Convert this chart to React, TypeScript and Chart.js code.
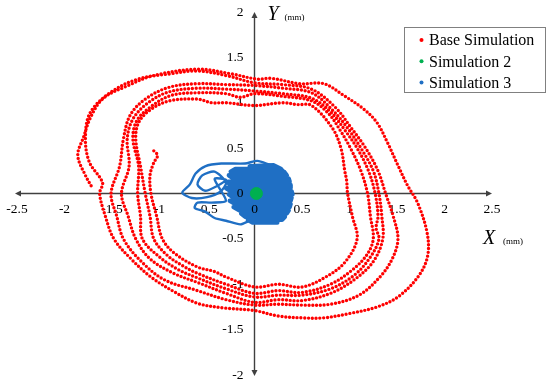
import React, { useEffect, useRef } from "react";
import { Chart, registerables } from "chart.js";

Chart.register(...registerables);

type P = [number, number];

const X_TICKS = [-2.5, -2, -1.5, -1, -0.5, 0, 0.5, 1, 1.5, 2, 2.5];
const Y_TICKS = [-2, -1.5, -1, -0.5, 0, 0.5, 1, 1.5, 2];
const SERIES_NAMES = ["Base Simulation", "Simulation 2", "Simulation 3"];
const SERIES_COLORS = ["#ff0000", "#00b050", "#1f6fc4"];

// Base Simulation trajectory (mm)
const BASE_TAIL: P[] = [[-1.06, 0.47], [-1.02, 0.42], [-1.06, 0.34], [-1.1, 0.2]];
const BASE_LOOP_6: P[] = [[-1.09, 0.0], [-1.03, -0.25], [-0.97, -0.5], [-0.84, -0.66], [-0.6, -0.81], [-0.42, -0.86], [-0.3, -0.92], [0.0, -1.03], [0.25, -1.0], [0.5, -1.03], [0.75, -0.92], [0.95, -0.76], [1.08, -0.5], [1.03, -0.25], [0.98, 0.0], [0.97, 0.14], [0.95, 0.25], [0.91, 0.5], [0.82, 0.72], [0.6, 0.97], [0.45, 0.98], [0.3, 1.0], [0.0, 0.97], [-0.3, 1.0], [-0.45, 1.0], [-0.6, 1.04], [-0.9, 1.02], [-1.1, 0.92], [-1.22, 0.78], [-1.25, 0.6], [-1.2, 0.3]];
const BASE_LOOP_5: P[] = [[-1.15, 0.0], [-1.1, -0.25], [-1.06, -0.5], [-0.92, -0.68], [-0.75, -0.8], [-0.6, -0.88], [-0.3, -1.0], [0.0, -1.1], [0.25, -1.07], [0.5, -1.09], [0.8, -1.0], [1.02, -0.85], [1.18, -0.68], [1.25, -0.5], [1.22, -0.25], [1.19, 0.0], [1.12, 0.25], [1.01, 0.5], [0.9, 0.7], [0.78, 0.88], [0.6, 1.02], [0.3, 1.07], [0.0, 1.1], [-0.15, 1.06], [-0.3, 1.1], [-0.6, 1.11], [-0.88, 1.08], [-1.1, 0.95], [-1.24, 0.8], [-1.28, 0.6], [-1.22, 0.3]];
const BASE_LOOP_4: P[] = [[-1.23, 0.0], [-1.2, -0.25], [-1.18, -0.5], [-1.0, -0.7], [-0.8, -0.84], [-0.6, -0.93], [-0.3, -1.05], [0.0, -1.14], [0.25, -1.12], [0.5, -1.12], [0.8, -1.05], [1.05, -0.9], [1.22, -0.7], [1.31, -0.5], [1.28, -0.38], [1.3, -0.25], [1.27, 0.0], [1.2, 0.25], [1.08, 0.5], [0.95, 0.7], [0.8, 0.9], [0.6, 1.05], [0.3, 1.1], [0.0, 1.13], [-0.3, 1.15], [-0.6, 1.16], [-0.9, 1.12], [-1.12, 1.0], [-1.28, 0.82], [-1.34, 0.6], [-1.32, 0.3]];
const BASE_LOOP_3: P[] = [[-1.4, 0.0], [-1.33, -0.25], [-1.25, -0.5], [-1.1, -0.72], [-0.85, -0.88], [-0.6, -0.98], [-0.3, -1.1], [0.0, -1.2], [0.25, -1.17], [0.5, -1.18], [0.8, -1.1], [1.05, -0.95], [1.25, -0.75], [1.35, -0.5], [1.34, -0.25], [1.31, 0.0], [1.25, 0.25], [1.12, 0.5], [0.98, 0.72], [0.82, 0.92], [0.6, 1.11], [0.3, 1.16], [0.0, 1.19], [-0.3, 1.2], [-0.6, 1.21], [-0.9, 1.17], [-1.15, 1.04], [-1.31, 0.86], [-1.38, 0.6], [-1.42, 0.3]];
const BASE_LOOP_2: P[] = [[-1.51, 0.0], [-1.45, -0.25], [-1.38, -0.5], [-1.2, -0.74], [-0.95, -0.95], [-0.6, -1.07], [-0.3, -1.17], [0.0, -1.23], [0.25, -1.22], [0.5, -1.23], [0.8, -1.22], [1.1, -1.12], [1.32, -0.92], [1.45, -0.72], [1.51, -0.5], [1.46, -0.25], [1.38, 0.0], [1.3, 0.25], [1.17, 0.5], [1.02, 0.72], [0.85, 0.95], [0.6, 1.15], [0.3, 1.2], [0.0, 1.22], [-0.3, 1.3], [-0.6, 1.35], [-0.88, 1.32], [-1.23, 1.26], [-1.52, 1.11], [-1.73, 0.89], [-1.78, 0.62], [-1.74, 0.35], [-1.6, 0.12]];
const BASE_LOOP_1: P[] = [[-1.63, 0.0], [-1.57, -0.25], [-1.48, -0.5], [-1.3, -0.72], [-1.09, -0.92], [-0.85, -1.08], [-0.6, -1.21], [-0.33, -1.26], [0.0, -1.29], [0.25, -1.35], [0.5, -1.37], [0.73, -1.37], [1.01, -1.32], [1.29, -1.25], [1.51, -1.14], [1.72, -0.92], [1.82, -0.7], [1.82, -0.45], [1.72, -0.11], [1.61, 0.09], [1.51, 0.31], [1.4, 0.56], [1.29, 0.78], [1.15, 0.93], [0.94, 1.08], [0.73, 1.21], [0.48, 1.21], [0.17, 1.27], [0.03, 1.26], [-0.25, 1.32], [-0.6, 1.37], [-1.06, 1.3], [-1.35, 1.18], [-1.59, 1.05], [-1.72, 0.85], [-1.8, 0.62], [-1.86, 0.42], [-1.78, 0.2], [-1.7, 0.05]];

// Simulation 2
const SIM2_POINTS: P[] = [[0.02, 0.0]];

// Simulation 3 trajectory (mm): excursions and dense core
const SIM3_OUTER: P[] = [[0.3, 0.26], [0.15, 0.32], [0.03, 0.36], [-0.1, 0.33], [-0.35, 0.33], [-0.52, 0.3], [-0.62, 0.22], [-0.68, 0.1], [-0.76, 0.01], [-0.66, -0.05], [-0.5, -0.04], [-0.36, 0.02], [-0.3, 0.12], [-0.42, 0.24], [-0.55, 0.2], [-0.6, 0.1], [-0.52, 0.03], [-0.4, 0.08], [-0.3, 0.15], [-0.42, 0.16], [-0.3, -0.08], [-0.45, -0.1], [-0.6, -0.1], [-0.63, -0.16], [-0.52, -0.2], [-0.42, -0.27], [-0.3, -0.3], [-0.15, -0.34], [-0.05, -0.3]];
const SIM3_CORE: P[] = [[-0.05, 0.3], [0.2, 0.31], [0.28, 0.27], [-0.2, 0.27], [-0.25, 0.24], [0.31, 0.24], [0.34, 0.2], [-0.27, 0.2], [-0.22, 0.165], [0.36, 0.165], [0.37, 0.13], [-0.28, 0.13], [-0.26, 0.095], [0.38, 0.095], [0.38, 0.06], [-0.3, 0.06], [-0.25, 0.025], [0.39, 0.025], [0.4, -0.01], [-0.27, -0.01], [-0.22, -0.045], [0.39, -0.045], [0.38, -0.08], [-0.26, -0.08], [-0.2, -0.115], [0.38, -0.115], [0.37, -0.15], [-0.22, -0.15], [-0.16, -0.185], [0.36, -0.185], [0.34, -0.22], [-0.14, -0.22], [-0.1, -0.255], [0.32, -0.255], [0.29, -0.29], [-0.07, -0.29], [-0.02, -0.32], [0.24, -0.32]];

const FONT = '"Liberation Serif", "Times New Roman", serif';
const AXIS_COLOR = "#404040";

const toXY = (pts: P[]) => pts.map(([x, y]) => ({ x, y }));

function arrow(ctx: CanvasRenderingContext2D, tx: number, ty: number, dx: number, dy: number) {
  const len = 6, half = 3;
  const bx = tx - dx * len, by = ty - dy * len;
  ctx.beginPath();
  ctx.moveTo(tx, ty);
  ctx.lineTo(bx - dy * half, by + dx * half);
  ctx.lineTo(bx + dy * half, by - dx * half);
  ctx.closePath();
  ctx.fill();
}

function drawTickLabels(chart: any, onlyZero: boolean) {
  const { ctx, scales } = chart;
  const xs = scales.x, ys = scales.y;
  const ox = xs.getPixelForValue(0), oy = ys.getPixelForValue(0);
  ctx.save();
  ctx.fillStyle = "#000";
  ctx.font = `13.5px ${FONT}`;
  ctx.textAlign = "center";
  ctx.textBaseline = "middle";
  for (const v of X_TICKS) {
    if (onlyZero && v !== 0) continue;
    ctx.fillText(String(v), xs.getPixelForValue(v), oy + 16);
  }
  ctx.textAlign = "right";
  for (const v of Y_TICKS) {
    if (onlyZero && v !== 0) continue;
    ctx.fillText(String(v), ox - 11, ys.getPixelForValue(v));
  }
  ctx.restore();
}

const overlayPlugin = {
  id: "crossAxesOverlay",
  beforeDatasetsDraw(chart: any) {
    const { ctx, scales } = chart;
    const xs = scales.x, ys = scales.y;
    const ox = xs.getPixelForValue(0), oy = ys.getPixelForValue(0);
    const xMin = xs.getPixelForValue(X_TICKS[0]);
    const xMax = xs.getPixelForValue(X_TICKS[X_TICKS.length - 1]);
    const yTop = ys.getPixelForValue(Y_TICKS[Y_TICKS.length - 1]);
    const yBot = ys.getPixelForValue(Y_TICKS[0]);
    ctx.save();
    ctx.strokeStyle = AXIS_COLOR;
    ctx.fillStyle = AXIS_COLOR;
    ctx.lineWidth = 1.4;
    ctx.beginPath();
    ctx.moveTo(xMin + 3, oy);
    ctx.lineTo(xMax - 3, oy);
    ctx.moveTo(ox, yTop + 3);
    ctx.lineTo(ox, yBot - 3);
    ctx.stroke();
    arrow(ctx, xMin - 2, oy, -1, 0);
    arrow(ctx, xMax, oy, 1, 0);
    arrow(ctx, ox, yTop, 0, -1);
    arrow(ctx, ox, yBot + 1, 0, 1);
    ctx.restore();
    drawTickLabels(chart, false);
  },
  afterDatasetsDraw(chart: any) {
    drawTickLabels(chart, true);
    const { ctx, scales } = chart;
    const xs = scales.x, ys = scales.y;
    const ox = xs.getPixelForValue(0), oy = ys.getPixelForValue(0);
    const xMax = xs.getPixelForValue(X_TICKS[X_TICKS.length - 1]);
    const yTop = ys.getPixelForValue(Y_TICKS[Y_TICKS.length - 1]);
    ctx.save();
    ctx.fillStyle = "#000";
    ctx.textBaseline = "alphabetic";
    ctx.textAlign = "left";
    ctx.font = `italic 20px ${FONT}`;
    ctx.fillText("X", xMax - 9, oy + 50);
    ctx.fillText("Y", ox + 13, yTop + 8);
    ctx.font = `9px ${FONT}`;
    ctx.fillText("(mm)", xMax + 11, oy + 50);
    ctx.fillText("(mm)", ox + 30, yTop + 8);

    // legend
    const bx = 404.5, by = 27.5, bw = 141, bh = 65;
    ctx.fillStyle = "#fff";
    ctx.fillRect(bx, by, bw, bh);
    ctx.strokeStyle = "#808080";
    ctx.lineWidth = 1;
    ctx.strokeRect(bx, by, bw, bh);
    ctx.font = `16px ${FONT}`;
    ctx.textBaseline = "middle";
    SERIES_NAMES.forEach((name, i) => {
      const ry = 40 + i * 21.3;
      ctx.fillStyle = SERIES_COLORS[i];
      ctx.beginPath();
      ctx.arc(421.5, ry, 2, 0, Math.PI * 2);
      ctx.fill();
      ctx.fillStyle = "#000";
      ctx.fillText(name, 429, ry + 1);
    });
    ctx.restore();
  },
};

export default function App() {
  const ref = useRef<HTMLCanvasElement>(null);
  useEffect(() => {
    if (!ref.current) return;
    const red = [...BASE_TAIL, ...BASE_LOOP_6, ...BASE_LOOP_5, ...BASE_LOOP_4, ...BASE_LOOP_3, ...BASE_LOOP_2, ...BASE_LOOP_1];
    const chart = new Chart(ref.current, {
      type: "scatter",
      data: {
        datasets: [
          {
            label: SERIES_NAMES[0],
            data: toXY(red),
            showLine: true,
            borderColor: SERIES_COLORS[0],
            backgroundColor: SERIES_COLORS[0],
            borderWidth: 3.4,
            borderDash: [0, 3.8],
            borderCapStyle: "round",
            borderJoinStyle: "round",
            pointRadius: 0,
            tension: 0.35,
            order: 3,
          } as any,
          {
            label: SERIES_NAMES[1],
            data: toXY(SIM2_POINTS),
            backgroundColor: SERIES_COLORS[1],
            borderColor: SERIES_COLORS[1],
            pointRadius: 6,
            order: 0,
          },
          {
            label: SERIES_NAMES[2],
            data: toXY(SIM3_OUTER),
            showLine: true,
            borderColor: SERIES_COLORS[2],
            backgroundColor: SERIES_COLORS[2],
            borderWidth: 2.4,
            borderJoinStyle: "round",
            borderCapStyle: "round",
            pointRadius: 0,
            tension: 0.25,
            order: 2,
          } as any,
          {
            label: SERIES_NAMES[2],
            data: toXY(SIM3_CORE),
            showLine: true,
            borderColor: SERIES_COLORS[2],
            backgroundColor: SERIES_COLORS[2],
            borderWidth: 4.5,
            borderJoinStyle: "round",
            borderCapStyle: "round",
            pointRadius: 0,
            tension: 0,
            order: 1,
          } as any,
        ],
      },
      options: {
        responsive: false,
        animation: false,
        devicePixelRatio: 1,
        layout: { padding: { left: 17, right: 58, top: 12, bottom: 11 } },
        scales: {
          x: { type: "linear", min: -2.5, max: 2.5, display: false },
          y: { type: "linear", min: -2, max: 2, display: false },
        },
        plugins: { legend: { display: false }, tooltip: { enabled: false } },
      },
      plugins: [overlayPlugin],
    });
    return () => chart.destroy();
  }, []);
  return (
    <div style={{ position: "absolute", left: 0, top: 0, width: 550, height: 386, background: "#fff" }}>
      <canvas ref={ref} width={550} height={386} />
    </div>
  );
}
